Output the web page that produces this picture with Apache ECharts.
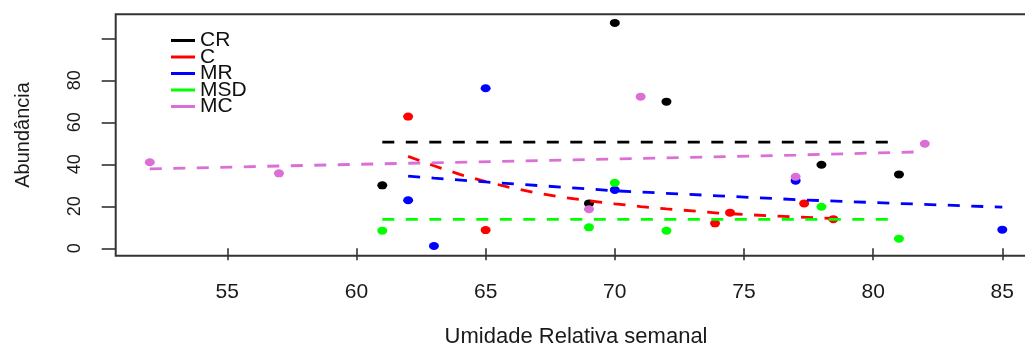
<!DOCTYPE html>
<html>
<head>
<meta charset="utf-8">
<style>
  html, body { margin: 0; padding: 0; background: #ffffff; }
  #chart { width: 1025px; height: 349px; }
</style>
<script src="https://cdn.jsdelivr.net/npm/echarts@6/dist/echarts.min.js"></script>
</head>
<body>
<div id="chart"></div>
<script>
// Observed weekly abundance per group against weekly relative humidity
const crX  = [61, 69, 70, 72, 78, 81];
const crY  = [30.0, 21.4, 107.3, 69.8, 39.8, 35.2];
const cX   = [62, 65, 73.88, 74.46, 77.33, 78.46];
const cY   = [62.7, 8.7, 11.9, 17.0, 21.4, 13.9];
const mrX  = [62, 63, 65, 70, 77, 85];
const mrY  = [22.9, 1.1, 76.2, 27.8, 32.2, 8.9];
const msdX = [61, 69, 70, 72, 78, 81];
const msdY = [8.4, 10.0, 31.2, 8.4, 19.8, 4.6];
const mcX  = [52, 57, 69, 71, 77, 82];
const mcY  = [41.0, 35.7, 18.6, 72.2, 34.1, 49.8];

// Fitted curves (dashed), sampled along humidity
const crFitX  = [61, 81];
const crFitY  = [50.6, 50.6];
const cFitX   = [62, 63, 64, 65, 66, 67, 68, 69, 70, 71, 72, 73, 74, 75, 76, 77, 78, 78.5];
const cFitY   = [43.8, 39.3, 35.2, 31.8, 28.8, 26.3, 24.3, 22.6, 21.2, 19.9, 18.8, 17.8, 16.8, 16.1, 15.5, 15.0, 14.4, 14.2];
const mrFitX  = [62, 63, 65, 70, 74, 77, 80, 85];
const mrFitY  = [34.4, 33.4, 31.6, 27.4, 25.0, 23.2, 21.8, 19.6];
const msdFitX = [61, 81];
const msdFitY = [13.8, 13.8];
const mcFitX  = [52, 57, 62, 70, 77, 82];
const mcFitY  = [37.8, 39.2, 40.5, 42.5, 44.4, 46.0];

// Axis ticks and labels
const xTicks  = [55, 60, 65, 70, 75, 80, 85];
const yTicks  = [0, 20, 40, 60, 80, 100];
const yLabels = [0, 20, 40, 60, 80];

const groupNames  = ['CR', 'C', 'MR', 'MSD', 'MC'];
const groupColors = ['#000000', '#ff0000', '#0000ff', '#00ff00', '#da70d6'];

const pts = [[crX, crY], [cX, cY], [mrX, mrY], [msdX, msdY], [mcX, mcY]];
const fits = [[crFitX, crFitY], [cFitX, cFitY], [mrFitX, mrFitY], [msdFitX, msdFitY], [mcFitX, mcFitY]];

const zip = (xs, ys) => xs.map((x, i) => [x, ys[i]]);

const series = [];
groupNames.forEach((name, g) => {
  series.push({
    name: name + ' obs',
    type: 'scatter',
    data: zip(pts[g][0], pts[g][1]),
    symbol: 'circle',
    symbolSize: [10, 8],
    itemStyle: { color: groupColors[g], opacity: 1 },
    z: 3
  });
});
groupNames.forEach((name, g) => {
  series.push({
    name: name,
    type: 'line',
    data: zip(fits[g][0], fits[g][1]),
    symbol: 'none',
    smooth: false,
    lineStyle: { color: groupColors[g], width: 2.8, type: [12, 11.5] },
    itemStyle: { color: groupColors[g] },
    z: 4
  });
});

const FONT = '"Liberation Sans", Arial, sans-serif';
// Solid bar used as the legend key
const KEY_ICON = 'path://M0,0 L24,0 L24,3 L0,3 Z';

const chart = echarts.init(document.getElementById('chart'), null, { renderer: 'canvas' });
chart.setOption({
  animation: false,
  backgroundColor: '#ffffff',
  textStyle: { fontFamily: FONT },
  grid: {
    left: 115.7, top: 14.3, bottom: 93.3, right: -11.4,
    outerBoundsMode: 'none',
    show: true, borderColor: '#333333', borderWidth: 2, backgroundColor: 'transparent',
    containLabel: false
  },
  legend: {
    data: groupNames.map((n, g) => ({ name: n, icon: KEY_ICON, itemStyle: { color: groupColors[g] } })),
    orient: 'vertical',
    left: 171, top: 30,
    padding: 0,
    itemWidth: 24, itemHeight: 14, itemGap: -4.5,
    symbolKeepAspect: true,
    textStyle: { fontFamily: FONT, fontSize: 21, color: '#111111', lineHeight: 14 },
    selectedMode: false
  },
  xAxis: {
    type: 'value',
    min: 50.68, max: 86.32,
    name: 'Umidade Relativa semanal',
    nameLocation: 'middle',
    nameGap: 70,
    nameTextStyle: { fontFamily: FONT, fontSize: 22, color: '#1a1a1a' },
    splitLine: { show: false },
    axisLine: { show: false },
    axisTick: { show: true, customValues: xTicks, length: 12, lineStyle: { color: '#333333', width: 1.6 } },
    axisLabel: { customValues: xTicks, margin: 26, fontFamily: FONT, fontSize: 21, color: '#1a1a1a' }
  },
  yAxis: {
    type: 'value',
    min: -3.5, max: 111.4,
    name: 'Abundância',
    nameLocation: 'middle',
    nameRotate: 90,
    nameGap: 82,
    nameTextStyle: { fontFamily: FONT, fontSize: 20, color: '#1a1a1a' },
    splitLine: { show: false },
    axisLine: { show: false },
    axisTick: { show: true, customValues: yTicks, length: 14, lineStyle: { color: '#333333', width: 1.6 } },
    axisLabel: { customValues: yLabels, rotate: 90, margin: 32, fontFamily: FONT, fontSize: 18, color: '#1a1a1a' }
  },
  series: series
});
</script>
</body>
</html>
